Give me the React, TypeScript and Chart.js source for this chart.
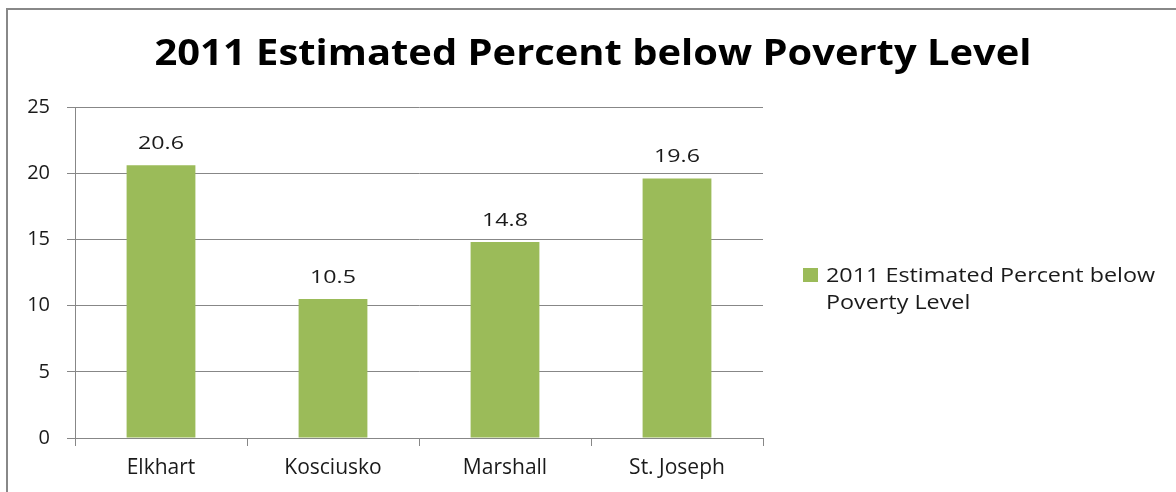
import React, { useEffect, useRef } from "react";
import { Chart, registerables } from "chart.js";

Chart.register(...registerables);

const categories = ["Elkhart", "Kosciusko", "Marshall", "St. Joseph"];
const seriesLabel = "2011 Estimated Percent below Poverty Level";
const legendLines = ["2011 Estimated Percent below", "Poverty Level"];
const values = [20.6, 10.5, 14.8, 19.6];
const yTicks = [0, 5, 10, 15, 20, 25];

const FONT = "'Open Sans', sans-serif";
const BAR = "#9BBB59";
const GRID = "#878787";
const TEXT = "#1a1a1a";

// draw text stretched horizontally so that it spans a given width
function stretchedText(
  ctx: CanvasRenderingContext2D,
  text: string,
  x: number,
  y: number,
  width: number,
  align: "left" | "center"
) {
  const w = ctx.measureText(text).width;
  const sx = width / w;
  ctx.save();
  ctx.translate(x, y);
  ctx.scale(sx, 1);
  ctx.textAlign = align;
  ctx.fillText(text, 0, 0);
  ctx.restore();
}

const framePlugin = {
  id: "frame",
  beforeDraw(chart: any) {
    const ctx = chart.ctx;
    ctx.save();
    ctx.fillStyle = "#ffffff";
    ctx.fillRect(0, 0, chart.width, chart.height);
    ctx.strokeStyle = "#888888";
    ctx.lineWidth = 2;
    ctx.strokeRect(7, 9, chart.width + 20, chart.height + 20);
    ctx.restore();
  },
};

const titlePlugin = {
  id: "bigTitle",
  afterDraw(chart: any) {
    const ctx = chart.ctx;
    ctx.save();
    ctx.font = `bold 35px ${FONT}`;
    ctx.fillStyle = "#000";
    ctx.textBaseline = "alphabetic";
    stretchedText(ctx, seriesLabel, 593, 65, 877, "center");
    ctx.restore();
  },
};

const valueLabels = {
  id: "valueLabels",
  afterDatasetsDraw(chart: any) {
    const ctx = chart.ctx;
    const meta = chart.getDatasetMeta(0);
    ctx.save();
    ctx.font = `19px ${FONT}`;
    ctx.fillStyle = TEXT;
    ctx.textBaseline = "alphabetic";
    meta.data.forEach((el: any, i: number) => {
      const t = values[i].toFixed(1);
      const w = ctx.measureText(t).width * 1.22;
      stretchedText(ctx, t, el.x, el.y - 16, w, "center");
    });
    ctx.restore();
  },
};

const sideLegend = {
  id: "sideLegend",
  afterDraw(chart: any) {
    const ctx = chart.ctx;
    const area = chart.chartArea;
    const x0 = area.right + 40;
    const yMid = (area.top + area.bottom) / 2;
    ctx.save();
    ctx.fillStyle = BAR;
    ctx.fillRect(x0, yMid - 4.5, 15, 14);
    ctx.font = `20px ${FONT}`;
    ctx.fillStyle = TEXT;
    ctx.textBaseline = "alphabetic";
    const s = 329 / ctx.measureText(legendLines[0]).width;
    legendLines.forEach((line, i) => {
      const w = ctx.measureText(line).width * s;
      stretchedText(ctx, line, x0 + 23, yMid + 9.5 + i * 27, w, "left");
    });
    ctx.restore();
  },
};

export default function App() {
  const ref = useRef<HTMLCanvasElement>(null);
  useEffect(() => {
    document.body.style.margin = "0";
    const chart = new Chart(ref.current!, {
      type: "bar",
      data: {
        labels: categories,
        datasets: [
          {
            label: seriesLabel,
            data: values,
            backgroundColor: BAR,
            categoryPercentage: 1,
            barPercentage: 0.4,
          },
        ],
      },
      options: {
        animation: false,
        responsive: false,
        layout: { padding: { left: 0, right: 413, top: 107, bottom: 0 } },
        plugins: {
          legend: { display: false },
          tooltip: { enabled: false },
          title: { display: false },
        },
        scales: {
          x: {
            grid: {
              drawOnChartArea: false,
              drawTicks: true,
              tickLength: 8,
              color: GRID,
              offset: true,
            },
            border: { color: GRID },
            ticks: { color: TEXT, font: { family: FONT, size: 21 }, padding: 9 },
            afterFit: (s: any) => {
              s.height = 54;
            },
          },
          y: {
            min: 0,
            max: 25,
            afterBuildTicks: (s: any) => {
              s.ticks = yTicks.map((v) => ({ value: v }));
            },
            grid: { color: GRID, tickLength: 8 },
            border: { color: GRID },
            ticks: { color: TEXT, font: { family: FONT, size: 20 }, padding: 17 },
            afterFit: (s: any) => {
              s.width = 75;
            },
          },
        },
      },
      plugins: [framePlugin, valueLabels, sideLegend, titlePlugin],
    });
    return () => chart.destroy();
  }, []);
  return <canvas ref={ref} width={1176} height={492} style={{ display: "block" }} />;
}
